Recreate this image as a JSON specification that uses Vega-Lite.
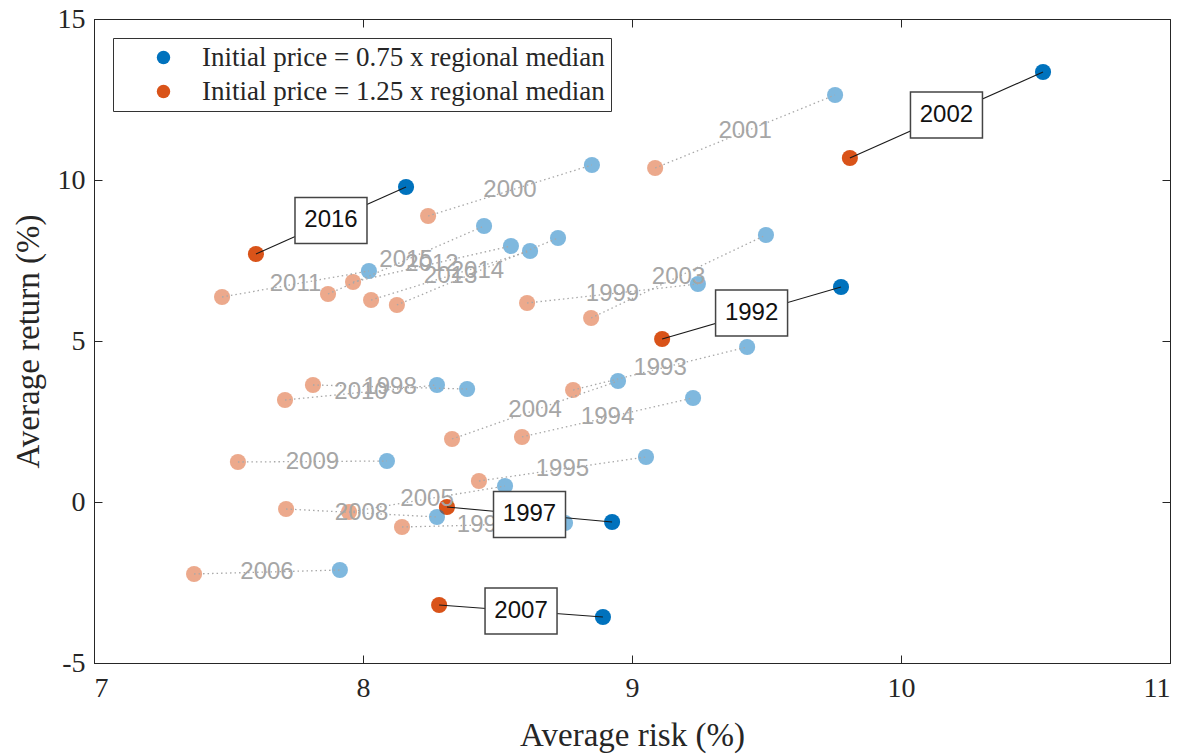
{
  "$schema": "https://vega.github.io/schema/vega-lite/v6.json",
  "width": 1076,
  "height": 644,
  "autosize": {"type": "none"},
  "padding": {"left": 94, "top": 19, "right": 15, "bottom": 91},
  "background": "white",
  "config": {
    "view": {"stroke": "#262626", "strokeWidth": 1},
    "axis": {"grid": false, "domainColor": "#262626", "tickColor": "#262626", "labelColor": "#262626", "titleColor": "#262626", "labelFont": "Liberation Serif", "titleFont": "Liberation Serif", "titleFontWeight": "normal"}
  },
  "data": {"values": [
    {"year": "1992", "g": "Initial price = 0.75 x regional median", "risk": 9.777, "ret": 6.677, "hl": true},
    {"year": "1992", "g": "Initial price = 1.25 x regional median", "risk": 9.112, "ret": 5.062, "hl": true},
    {"year": "1993", "g": "Initial price = 0.75 x regional median", "risk": 9.428, "ret": 4.814, "hl": false},
    {"year": "1993", "g": "Initial price = 1.25 x regional median", "risk": 8.781, "ret": 3.478, "hl": false},
    {"year": "1994", "g": "Initial price = 0.75 x regional median", "risk": 9.227, "ret": 3.230, "hl": false},
    {"year": "1994", "g": "Initial price = 1.25 x regional median", "risk": 8.591, "ret": 2.019, "hl": false},
    {"year": "1995", "g": "Initial price = 0.75 x regional median", "risk": 9.052, "ret": 1.398, "hl": false},
    {"year": "1995", "g": "Initial price = 1.25 x regional median", "risk": 8.431, "ret": 0.652, "hl": false},
    {"year": "1996", "g": "Initial price = 0.75 x regional median", "risk": 8.751, "ret": -0.652, "hl": false},
    {"year": "1996", "g": "Initial price = 1.25 x regional median", "risk": 8.145, "ret": -0.776, "hl": false},
    {"year": "1997", "g": "Initial price = 0.75 x regional median", "risk": 8.926, "ret": -0.621, "hl": true},
    {"year": "1997", "g": "Initial price = 1.25 x regional median", "risk": 8.312, "ret": -0.155, "hl": true},
    {"year": "1998", "g": "Initial price = 0.75 x regional median", "risk": 8.387, "ret": 3.509, "hl": false},
    {"year": "1998", "g": "Initial price = 1.25 x regional median", "risk": 7.814, "ret": 3.634, "hl": false},
    {"year": "1999", "g": "Initial price = 0.75 x regional median", "risk": 9.245, "ret": 6.770, "hl": false},
    {"year": "1999", "g": "Initial price = 1.25 x regional median", "risk": 8.610, "ret": 6.180, "hl": false},
    {"year": "2000", "g": "Initial price = 0.75 x regional median", "risk": 8.851, "ret": 10.466, "hl": false},
    {"year": "2000", "g": "Initial price = 1.25 x regional median", "risk": 8.242, "ret": 8.882, "hl": false},
    {"year": "2001", "g": "Initial price = 0.75 x regional median", "risk": 9.755, "ret": 12.640, "hl": false},
    {"year": "2001", "g": "Initial price = 1.25 x regional median", "risk": 9.086, "ret": 10.373, "hl": false},
    {"year": "2002", "g": "Initial price = 0.75 x regional median", "risk": 10.528, "ret": 13.354, "hl": true},
    {"year": "2002", "g": "Initial price = 1.25 x regional median", "risk": 9.810, "ret": 10.683, "hl": true},
    {"year": "2003", "g": "Initial price = 0.75 x regional median", "risk": 9.498, "ret": 8.292, "hl": false},
    {"year": "2003", "g": "Initial price = 1.25 x regional median", "risk": 8.848, "ret": 5.714, "hl": false},
    {"year": "2004", "g": "Initial price = 0.75 x regional median", "risk": 8.948, "ret": 3.758, "hl": false},
    {"year": "2004", "g": "Initial price = 1.25 x regional median", "risk": 8.331, "ret": 1.957, "hl": false},
    {"year": "2005", "g": "Initial price = 0.75 x regional median", "risk": 8.528, "ret": 0.497, "hl": false},
    {"year": "2005", "g": "Initial price = 1.25 x regional median", "risk": 7.948, "ret": -0.311, "hl": false},
    {"year": "2006", "g": "Initial price = 0.75 x regional median", "risk": 7.914, "ret": -2.112, "hl": false},
    {"year": "2006", "g": "Initial price = 1.25 x regional median", "risk": 7.372, "ret": -2.236, "hl": false},
    {"year": "2007", "g": "Initial price = 0.75 x regional median", "risk": 8.892, "ret": -3.571, "hl": true},
    {"year": "2007", "g": "Initial price = 1.25 x regional median", "risk": 8.283, "ret": -3.199, "hl": true},
    {"year": "2008", "g": "Initial price = 0.75 x regional median", "risk": 8.275, "ret": -0.466, "hl": false},
    {"year": "2008", "g": "Initial price = 1.25 x regional median", "risk": 7.714, "ret": -0.217, "hl": false},
    {"year": "2009", "g": "Initial price = 0.75 x regional median", "risk": 8.089, "ret": 1.273, "hl": false},
    {"year": "2009", "g": "Initial price = 1.25 x regional median", "risk": 7.535, "ret": 1.242, "hl": false},
    {"year": "2010", "g": "Initial price = 0.75 x regional median", "risk": 8.275, "ret": 3.634, "hl": false},
    {"year": "2010", "g": "Initial price = 1.25 x regional median", "risk": 7.710, "ret": 3.168, "hl": false},
    {"year": "2011", "g": "Initial price = 0.75 x regional median", "risk": 8.022, "ret": 7.174, "hl": false},
    {"year": "2011", "g": "Initial price = 1.25 x regional median", "risk": 7.476, "ret": 6.366, "hl": false},
    {"year": "2012", "g": "Initial price = 0.75 x regional median", "risk": 8.550, "ret": 7.950, "hl": false},
    {"year": "2012", "g": "Initial price = 1.25 x regional median", "risk": 7.963, "ret": 6.832, "hl": false},
    {"year": "2013", "g": "Initial price = 0.75 x regional median", "risk": 8.621, "ret": 7.795, "hl": false},
    {"year": "2013", "g": "Initial price = 1.25 x regional median", "risk": 8.030, "ret": 6.273, "hl": false},
    {"year": "2014", "g": "Initial price = 0.75 x regional median", "risk": 8.725, "ret": 8.199, "hl": false},
    {"year": "2014", "g": "Initial price = 1.25 x regional median", "risk": 8.126, "ret": 6.118, "hl": false},
    {"year": "2015", "g": "Initial price = 0.75 x regional median", "risk": 8.450, "ret": 8.571, "hl": false},
    {"year": "2015", "g": "Initial price = 1.25 x regional median", "risk": 7.870, "ret": 6.460, "hl": false},
    {"year": "2016", "g": "Initial price = 0.75 x regional median", "risk": 8.160, "ret": 9.783, "hl": true},
    {"year": "2016", "g": "Initial price = 1.25 x regional median", "risk": 7.602, "ret": 7.702, "hl": true}
  ]},
  "resolve": {"axis": {"x": "independent", "y": "independent"}},
  "layer": [
    {
      "mark": {"type": "circle", "size": 260},
      "encoding": {
        "x": {"field": "risk", "type": "quantitative", "scale": {"domain": [7, 11], "nice": false, "zero": false},
          "axis": {"orient": "bottom", "values": [7, 8, 9, 10, 11], "tickSize": -8, "labelPadding": 19, "labelFontSize": 28, "title": "Average risk (%)", "titleFontSize": 33, "titleBaseline": "alphabetic", "titleY": 82}},
        "y": {"field": "ret", "type": "quantitative", "scale": {"domain": [-5, 15], "nice": false, "zero": false},
          "axis": {"orient": "left", "values": [-5, 0, 5, 10, 15], "tickSize": -8, "labelPadding": 17, "labelFontSize": 28, "labelExpr": "datum.value < 0 ? '-' + (-datum.value) : datum.label", "title": "Average return (%)", "titleFontSize": 33, "titleBaseline": "alphabetic", "titleX": -56, "titleY": 322}},
        "color": {"field": "g", "type": "nominal",
          "scale": {"domain": ["Initial price = 0.75 x regional median", "Initial price = 1.25 x regional median"], "range": ["#0072BD", "#D95319"]},
          "legend": {"title": null, "orient": "top-left", "offset": 19, "strokeColor": "#333333", "fillColor": "white", "padding": 6, "symbolOffset": 31, "labelOffset": 25, "labelFont": "Liberation Serif", "labelFontSize": 27, "labelColor": "#262626", "labelLimit": 0, "symbolSize": 180, "symbolType": "circle", "symbolOpacity": 1, "symbolStrokeWidth": 0, "rowPadding": 6}},
        "opacity": {"condition": {"test": "datum.hl", "value": 1}, "value": 0.5}
      }
    },
    {
      "transform": [{"filter": "!datum.hl"}],
      "mark": {"type": "line", "color": "#a8a8a8", "strokeWidth": 1.3, "strokeDash": [1.5, 3]},
      "encoding": {
        "x": {"field": "risk", "type": "quantitative", "axis": {"orient": "top", "values": [7, 8, 9, 10, 11], "tickSize": -8, "labels": false, "title": null, "domain": false}},
        "y": {"field": "ret", "type": "quantitative", "axis": {"orient": "right", "values": [-5, 0, 5, 10, 15], "tickSize": -8, "labels": false, "title": null, "domain": false}},
        "detail": {"field": "year"}
      }
    },
    {
      "transform": [{"filter": "datum.hl"}],
      "mark": {"type": "line", "color": "#1a1a1a", "strokeWidth": 1.1},
      "encoding": {
        "x": {"field": "risk", "type": "quantitative", "axis": null},
        "y": {"field": "ret", "type": "quantitative", "axis": null},
        "detail": {"field": "year"}
      }
    },
    {
      "transform": [{"filter": "!datum.hl"}],
      "mark": {"type": "text", "font": "Liberation Sans", "fontSize": 24, "color": "#a6a6a6", "align": "center", "baseline": "middle"},
      "encoding": {
        "x": {"aggregate": "mean", "field": "risk", "type": "quantitative", "axis": null},
        "y": {"aggregate": "mean", "field": "ret", "type": "quantitative", "axis": null},
        "text": {"field": "year", "type": "nominal"}
      }
    },
    {
      "transform": [{"filter": "datum.hl"}],
      "mark": {"type": "point", "shape": "M-1,-0.64L1,-0.64L1,0.64L-1,0.64Z", "size": 5184, "filled": true, "fill": "white", "stroke": "#444444", "strokeWidth": 1.5, "opacity": 1},
      "encoding": {
        "x": {"aggregate": "mean", "field": "risk", "type": "quantitative", "axis": null},
        "y": {"aggregate": "mean", "field": "ret", "type": "quantitative", "axis": null},
        "detail": {"field": "year"}
      }
    },
    {
      "transform": [{"filter": "datum.hl"}],
      "mark": {"type": "text", "font": "Liberation Sans", "fontSize": 24, "color": "#111111", "align": "center", "baseline": "middle"},
      "encoding": {
        "x": {"aggregate": "mean", "field": "risk", "type": "quantitative", "axis": null},
        "y": {"aggregate": "mean", "field": "ret", "type": "quantitative", "axis": null},
        "text": {"field": "year", "type": "nominal"}
      }
    }
  ]
}
